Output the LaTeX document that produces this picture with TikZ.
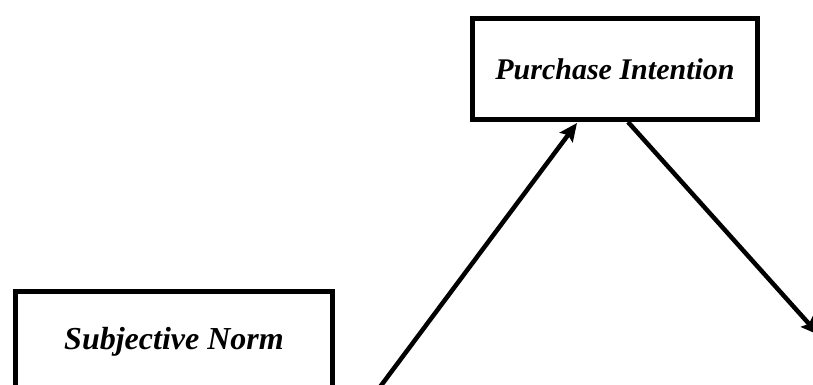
\documentclass[tikz,border=0pt]{standalone}
\usepackage{fontspec}
\setmainfont{Liberation Serif}
\usetikzlibrary{arrows.meta}
\tikzset{
  box/.style={draw=black, line width=5pt, fill=white, rectangle, inner sep=0pt,
    minimum width=#1, minimum height=101pt, font=\fontsize{30}{34}\selectfont\bfseries\itshape},
  arr/.style={line width=4.5pt, -{Stealth[length=18pt,width=16pt,inset=3pt]}}
}
\begin{document}
\begin{tikzpicture}[x=1pt,y=1pt]
\useasboundingbox (0,0) rectangle (813,385);
\clip (0,0) rectangle (813,385);
\fill[white] (0,0) rectangle (813,385);
\node[box=285pt] (pi) at (615,316) {Purchase Intention};
\node[box=317pt, font=\fontsize{32}{36}\selectfont\bfseries\itshape] (sn) at (174,43) {Subjective Norm};
\coordinate (s1) at (374,-10);
\coordinate (e2) at (819,50);
\draw[arr] (s1) -- ([xshift=-38pt,yshift=-1pt]pi.south);
\draw[arr] ([xshift=13pt]pi.south) -- (e2);
\end{tikzpicture}
\end{document}
